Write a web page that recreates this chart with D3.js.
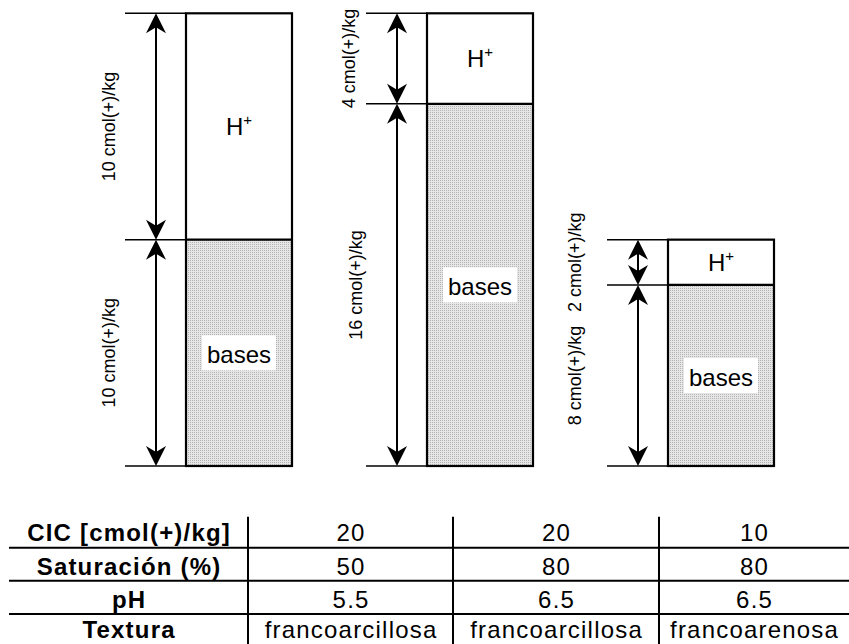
<!DOCTYPE html>
<html>
<head>
<meta charset="utf-8">
<script src="https://cdn.jsdelivr.net/npm/d3@7"></script>
<style>
  html, body { margin: 0; padding: 0; background: #fff; }
  svg { display: block; font-family: "Liberation Sans", Arial, sans-serif; }
</style>
</head>
<body>
<svg id="chart" width="849" height="644"></svg>
<script>
// ---------- data ----------
const soils = ["A", "B", "C"];
const hValues = [10, 4, 2];          // H+ (cmol(+)/kg)
const basesValues = [10, 16, 8];     // bases (cmol(+)/kg)
const unit = "cmol(+)/kg";

const rowLabels = ["CIC [cmol(+)/kg]", "Saturación (%)", "pH", "Textura"];
const cic = ["20", "20", "10"];
const saturacion = ["50", "80", "80"];
const ph = ["5.5", "6.5", "6.5"];
const textura = ["francoarcillosa", "francoarcillosa", "francoarenosa"];

// ---------- layout ----------
const svg = d3.select("#chart");
const y = d3.scaleLinear().domain([0, 20]).range([466, 13.3]);
const x = d3.scalePoint().domain(soils).range([186, 668]);
const boxW = 106;
const extLen = 61;
const arrowOff = 30;
const labelOff = [[71, 71], [72, 65], [87, 87]]; // [H+ label, bases label] offsets left of box

// stipple pattern
const defs = svg.append("defs");
const pat = defs.append("pattern").attr("id", "stip")
  .attr("patternUnits", "userSpaceOnUse").attr("width", 2).attr("height", 2);
pat.append("rect").attr("width", 2).attr("height", 2).attr("fill", "#e6e6e6");
pat.append("rect").attr("width", 1).attr("height", 1).attr("fill", "#b4b4b4");

function arrowHead(g, xc, yTip, dir) {
  // dir = -1 pointing up, +1 pointing down
  const L = 20, W = 10, N = 14;
  const p = d3.path();
  p.moveTo(xc, yTip);
  p.lineTo(xc - W, yTip - dir * L);
  p.lineTo(xc, yTip - dir * N);
  p.lineTo(xc + W, yTip - dir * L);
  p.closePath();
  g.append("path").attr("d", p.toString()).attr("fill", "#000");
}

soils.forEach((s, i) => {
  const g = svg.append("g");
  const x0 = x(s);
  const yBot = y(0), ySplit = y(basesValues[i]), yTop = y(basesValues[i] + hValues[i]);
  const cx = x0 + boxW / 2;

  // bases rect (stippled)
  g.append("rect").attr("x", x0).attr("y", ySplit).attr("width", boxW).attr("height", yBot - ySplit)
    .attr("fill", "url(#stip)");
  // H+ rect
  g.append("rect").attr("x", x0).attr("y", yTop).attr("width", boxW).attr("height", ySplit - yTop)
    .attr("fill", "#fff");

  // extension lines
  [yTop, ySplit, yBot].forEach(yy => {
    g.append("line").attr("x1", x0 - extLen).attr("x2", x0).attr("y1", yy).attr("y2", yy)
      .attr("stroke", "#000").attr("stroke-width", 1.5);
  });
  // box outline
  g.append("rect").attr("x", x0).attr("y", yTop).attr("width", boxW).attr("height", yBot - yTop)
    .attr("fill", "none").attr("stroke", "#000").attr("stroke-width", 2.2);
  g.append("line").attr("x1", x0).attr("x2", x0 + boxW).attr("y1", ySplit).attr("y2", ySplit)
    .attr("stroke", "#000").attr("stroke-width", 2.2);

  // arrows
  const ax = x0 - arrowOff;
  [[yTop, ySplit], [ySplit, yBot]].forEach(([a, b]) => {
    g.append("line").attr("x1", ax).attr("x2", ax).attr("y1", a + 8).attr("y2", b - 8)
      .attr("stroke", "#000").attr("stroke-width", 2);
    arrowHead(g, ax, a, -1);
    arrowHead(g, ax, b, 1);
  });

  // rotated labels
  const segs = [[yTop, ySplit, hValues[i], labelOff[i][0]], [ySplit, yBot, basesValues[i], labelOff[i][1]]];
  segs.forEach(([a, b, v, off]) => {
    const lx = x0 - off, ly = (a + b) / 2;
    g.append("text").attr("transform", `translate(${lx},${ly}) rotate(-90)`)
      .attr("text-anchor", "middle").attr("font-size", 18).attr("fill", "#000")
      .text(`${v} ${unit}`);
  });

  // H+ label
  const ht = g.append("text").attr("x", cx).attr("y", (yTop + ySplit) / 2 + 8.6)
    .attr("text-anchor", "middle").attr("font-size", 24).attr("fill", "#000");
  ht.append("tspan").text("H");
  ht.append("tspan").attr("font-size", 15).attr("dy", -10).text("+");

  // bases label with white background
  const by = (ySplit + yBot) / 2;
  const bt = g.append("text").attr("x", cx).attr("y", by + 10.5)
    .attr("text-anchor", "middle").attr("font-size", 24).attr("fill", "#000").text("bases");
  const bw = bt.node().getComputedTextLength();
  g.insert("rect", "text:last-of-type")
    .attr("x", cx - bw / 2 - 5).attr("y", by - 17.5).attr("width", bw + 10).attr("height", 35)
    .attr("fill", "#fff");
  bt.raise();
});

// ---------- table ----------
const tbl = svg.append("g");
const colBounds = [9, 248, 453, 659, 849];
const rowLines = [547.7, 580.7, 614];
const baselines = [541, 574.5, 607.5, 638];
const rows = [cic, saturacion, ph, textura];

rowLines.forEach(yy => {
  tbl.append("line").attr("x1", colBounds[0]).attr("x2", colBounds[4]).attr("y1", yy).attr("y2", yy)
    .attr("stroke", "#000").attr("stroke-width", 2);
});
colBounds.slice(1, 4).forEach(xx => {
  tbl.append("line").attr("x1", xx).attr("x2", xx).attr("y1", 516.7).attr("y2", 644)
    .attr("stroke", "#000").attr("stroke-width", 2);
});

rowLabels.forEach((lab, r) => {
  tbl.append("text").attr("x", (colBounds[0] + colBounds[1]) / 2 + 0.6).attr("y", baselines[r])
    .attr("text-anchor", "middle").attr("font-size", 24).attr("font-weight", "bold")
    .attr("letter-spacing", 1.2).attr("fill", "#000").text(lab);
  rows[r].forEach((v, c) => {
    tbl.append("text").attr("x", (colBounds[c + 1] + colBounds[c + 2]) / 2 + 0.6).attr("y", baselines[r])
      .attr("text-anchor", "middle").attr("font-size", 24)
      .attr("letter-spacing", 1.2).attr("fill", "#000").text(v);
  });
});
</script>
</body>
</html>
